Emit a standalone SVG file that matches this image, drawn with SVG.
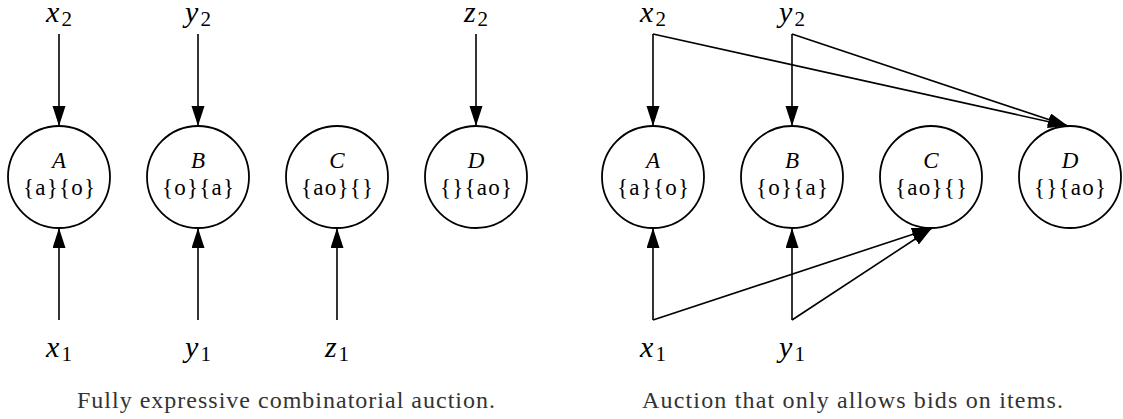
<svg xmlns="http://www.w3.org/2000/svg" width="1123" height="419" viewBox="0 0 1123 419">
<defs>
<marker id="arr" markerUnits="userSpaceOnUse" markerWidth="21" markerHeight="14" refX="20" refY="6.5" orient="auto">
<path d="M0,0 L20,6.5 L0,13 z" fill="#000"/>
</marker>
<circle id="nodeShape" r="51" fill="#fff" stroke="#000" stroke-width="1.8"/>
</defs>
<rect width="1123" height="419" fill="#fff"/>

<g id="edges" stroke="#000" stroke-width="1.6" fill="none" marker-end="url(#arr)">
<line x1="59" y1="34" x2="59" y2="126"/>
<line x1="198" y1="34" x2="198" y2="126"/>
<line x1="476" y1="34" x2="476" y2="126"/>
<line x1="59" y1="320" x2="59" y2="228"/>
<line x1="198" y1="320" x2="198" y2="228"/>
<line x1="337" y1="320" x2="337" y2="228"/>
<line x1="653" y1="34" x2="653" y2="126"/>
<line x1="792" y1="34" x2="792" y2="126"/>
<line x1="653" y1="34" x2="1068" y2="126"/>
<line x1="792" y1="34" x2="1068" y2="126"/>
<line x1="653" y1="320" x2="653" y2="228"/>
<line x1="792" y1="320" x2="792" y2="228"/>
<line x1="653" y1="320" x2="932" y2="228"/>
<line x1="792" y1="320" x2="932" y2="228"/>
</g>

<g font-family="Liberation Serif" font-size="23" text-anchor="middle" fill="#000">
<g id="L_A"><use href="#nodeShape" x="59" y="177"/><text x="59" y="168" font-style="italic">A</text><text x="59" y="195" textLength="72">{a}{o}</text></g>
<g id="L_B"><use href="#nodeShape" x="198" y="177"/><text x="198" y="168" font-style="italic">B</text><text x="198" y="195" textLength="72">{o}{a}</text></g>
<g id="L_C"><use href="#nodeShape" x="337" y="177"/><text x="337" y="168" font-style="italic">C</text><text x="337" y="195" textLength="72">{ao}{}</text></g>
<g id="L_D"><use href="#nodeShape" x="476" y="177"/><text x="476" y="168" font-style="italic">D</text><text x="476" y="195" textLength="72">{}{ao}</text></g>
<g id="R_A"><use href="#nodeShape" x="653" y="177"/><text x="653" y="168" font-style="italic">A</text><text x="653" y="195" textLength="72">{a}{o}</text></g>
<g id="R_B"><use href="#nodeShape" x="792" y="177"/><text x="792" y="168" font-style="italic">B</text><text x="792" y="195" textLength="72">{o}{a}</text></g>
<g id="R_C"><use href="#nodeShape" x="931" y="177"/><text x="931" y="168" font-style="italic">C</text><text x="931" y="195" textLength="72">{ao}{}</text></g>
<g id="R_D"><use href="#nodeShape" x="1070" y="177"/><text x="1070" y="168" font-style="italic">D</text><text x="1070" y="195" textLength="72">{}{ao}</text></g>
</g>

<g font-family="Liberation Serif" font-size="30" font-style="italic" text-anchor="middle" fill="#000">
<g id="L_x2"><text x="59" y="22">x<tspan font-style="normal" font-size="21" dx="2" dy="4">2</tspan></text></g>
<g id="L_y2"><text x="198" y="22">y<tspan font-style="normal" font-size="21" dx="2" dy="4">2</tspan></text></g>
<g id="L_z2"><text x="476" y="22">z<tspan font-style="normal" font-size="21" dx="2" dy="4">2</tspan></text></g>
<g id="L_x1"><text x="59" y="357">x<tspan font-style="normal" font-size="21" dx="2" dy="4">1</tspan></text></g>
<g id="L_y1"><text x="198" y="357">y<tspan font-style="normal" font-size="21" dx="2" dy="4">1</tspan></text></g>
<g id="L_z1"><text x="337" y="357">z<tspan font-style="normal" font-size="21" dx="2" dy="4">1</tspan></text></g>
<g id="R_x2"><text x="653" y="22">x<tspan font-style="normal" font-size="21" dx="2" dy="4">2</tspan></text></g>
<g id="R_y2"><text x="792" y="22">y<tspan font-style="normal" font-size="21" dx="2" dy="4">2</tspan></text></g>
<g id="R_x1"><text x="653" y="357">x<tspan font-style="normal" font-size="21" dx="2" dy="4">1</tspan></text></g>
<g id="R_y1"><text x="792" y="357">y<tspan font-style="normal" font-size="21" dx="2" dy="4">1</tspan></text></g>
</g>

<g font-family="Liberation Serif" font-size="24" fill="#333">
<text x="77" y="408" textLength="418">Fully expressive combinatorial auction.</text>
<text x="642" y="408" textLength="421">Auction that only allows bids on items.</text>
</g>
</svg>
